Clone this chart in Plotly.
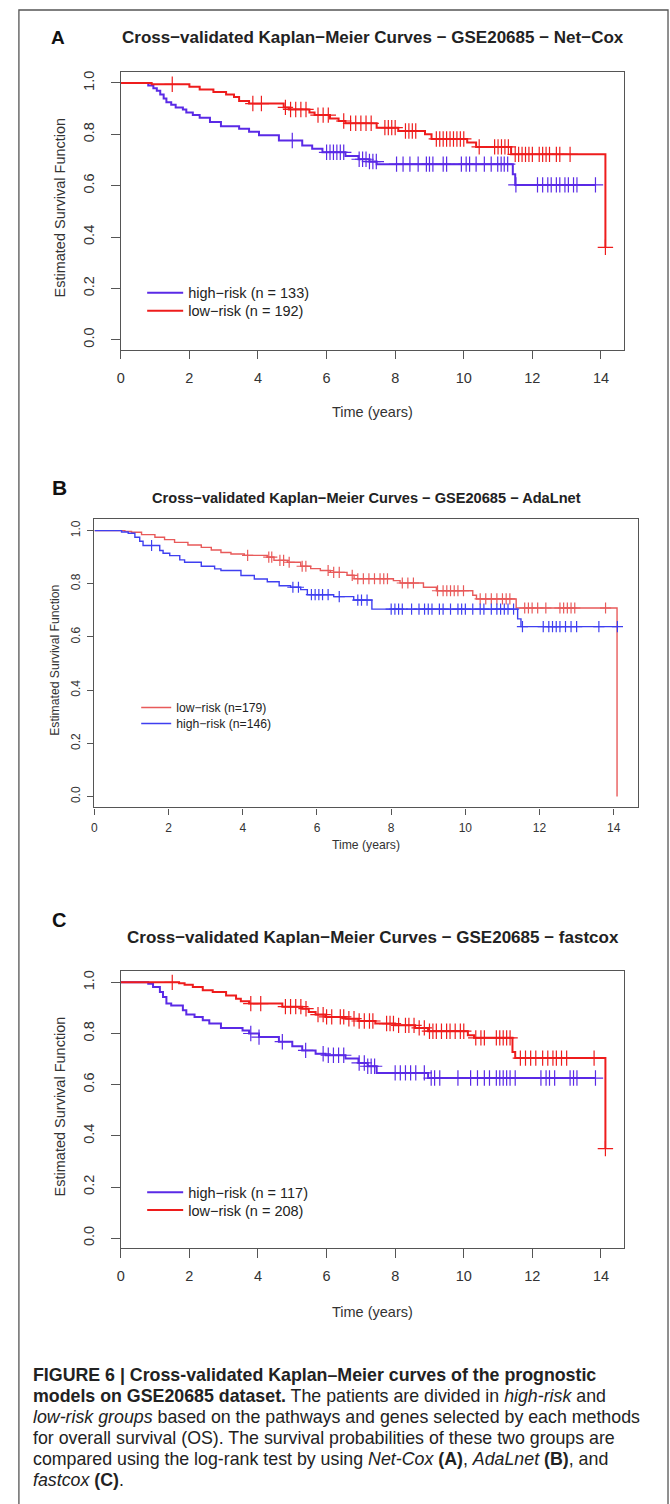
import plotly.graph_objects as go

W, H = 670, 1504

# ---------------- data ----------------
# Panel A: Net-Cox
A_low_t = [0.9, 2.0, 2.3, 2.7, 3.07, 3.3, 3.45, 3.74, 4.75, 4.9, 5.5, 5.65, 6.1, 6.35, 6.55, 7.46, 8.09, 8.87, 9.06, 10.1, 10.36, 11.38, 14.13]
A_low_s = [0.995, 0.985, 0.975, 0.965, 0.955, 0.945, 0.93, 0.92, 0.905, 0.897, 0.885, 0.875, 0.862, 0.852, 0.843, 0.826, 0.813, 0.80, 0.782, 0.768, 0.751, 0.722, 0.36]
A_low_end = 14.13
A_low_cens = [1.5, 3.85, 4.1, 4.8, 4.95, 5.1, 5.25, 5.4, 5.75, 5.9, 6.05, 6.5, 6.7, 6.85, 7.0, 7.15, 7.3,
              7.7, 7.8, 7.9, 8.0, 8.3, 8.4, 8.5, 8.6, 9.2, 9.3, 9.4, 9.5, 9.6, 9.7, 9.8, 9.9, 10.0, 10.45,
              10.9, 11.0, 11.1, 11.2, 11.3, 11.5, 11.6, 11.7, 11.8, 11.9, 12.0, 12.2, 12.3, 12.4, 12.5, 12.7,
              12.8, 13.1, 14.13]
A_high_t = [0.8, 0.95, 1.05, 1.15, 1.25, 1.33, 1.47, 1.6, 1.81, 1.91, 2.1, 2.3, 2.6, 2.92, 3.45, 3.74, 4.03, 4.61, 5.29, 5.58, 5.88, 6.55, 6.93, 7.25, 7.46, 11.43, 11.5]
A_high_s = [0.99, 0.98, 0.97, 0.955, 0.94, 0.925, 0.915, 0.905, 0.897, 0.885, 0.875, 0.865, 0.848, 0.832, 0.822, 0.81, 0.796, 0.776, 0.757, 0.744, 0.73, 0.716, 0.703, 0.694, 0.684, 0.645, 0.603]
A_high_end = 13.84
A_high_cens = [5.0, 6.0, 6.1, 6.2, 6.3, 6.4, 6.5, 6.95, 7.05, 7.15, 7.25, 7.35, 7.45, 8.04, 8.23, 8.43, 8.67,
               8.91, 9.0, 9.1, 9.4, 9.5, 9.93, 10.07, 10.17, 10.36, 10.6, 10.8, 10.99, 11.09, 11.18, 11.28,
               11.52, 12.15, 12.3, 12.45, 12.55, 12.7, 12.8, 12.95, 13.05, 13.2, 13.3, 13.84]

# Panel B: AdaLnet
B_low_t = [0.82, 1.0, 1.27, 1.63, 1.89, 2.16, 2.52, 2.88, 3.15, 3.41, 3.68, 4.04, 4.66, 4.84, 5.2, 5.56, 5.83, 6.09, 6.36, 6.81, 7.0, 8.06, 8.24, 8.87, 9.22, 10.2, 10.3, 11.37, 14.09]
B_low_s = [0.997, 0.994, 0.985, 0.975, 0.966, 0.956, 0.946, 0.937, 0.927, 0.918, 0.912, 0.907, 0.9, 0.888, 0.881, 0.866, 0.857, 0.85, 0.843, 0.832, 0.819, 0.812, 0.803, 0.787, 0.774, 0.757, 0.743, 0.709, 0.0]
B_low_end = 14.09
B_low_cens = [4.13, 4.7, 4.78, 5.0, 5.1, 5.25, 5.6, 5.7, 6.3, 6.45, 6.6, 6.95, 7.1, 7.25, 7.4, 7.55, 7.7,
              7.8, 7.9, 8.3, 8.45, 8.6, 9.25, 9.4, 9.5, 9.6, 9.7, 9.8, 9.95, 10.4, 10.55, 10.7, 10.85, 11.0,
              11.1, 11.2, 11.6, 11.7, 11.8, 11.95, 12.17, 12.55, 12.65, 12.75, 12.85, 12.95, 13.78]
B_high_t = [0.73, 0.91, 1.09, 1.22, 1.31, 1.76, 1.85, 2.03, 2.3, 2.43, 2.88, 3.24, 3.41, 3.95, 4.31, 4.66, 4.98, 5.29, 5.56, 5.74, 6.45, 6.99, 7.48, 11.41, 11.5]
B_high_s = [0.995, 0.99, 0.975, 0.96, 0.944, 0.925, 0.915, 0.906, 0.89, 0.881, 0.866, 0.856, 0.85, 0.831, 0.818, 0.808, 0.793, 0.787, 0.778, 0.759, 0.752, 0.739, 0.705, 0.668, 0.639]
B_high_end = 14.1
B_high_cens = [1.54, 5.35, 5.5, 5.85, 5.95, 6.05, 6.15, 6.3, 6.6, 7.1, 7.2, 7.35, 8.0, 8.1, 8.2, 8.3, 8.55,
               8.75, 8.9, 9.0, 9.1, 9.3, 9.4, 9.6, 9.8, 9.9, 10.0, 10.2, 10.4, 10.5, 10.7, 10.85, 10.95,
               11.05, 11.15, 11.3, 11.54, 12.1, 12.25, 12.35, 12.45, 12.55, 12.7, 12.85, 13.0, 13.6, 14.1]

# Panel C: fastcox
C_low_t = [1.7, 1.86, 2.1, 2.39, 2.68, 3.07, 3.36, 3.5, 3.74, 4.71, 5.29, 5.48, 5.68, 5.97, 6.55, 6.93, 7.42, 8.0, 8.58, 8.96, 10.12, 10.3, 11.42, 11.5, 14.13]
C_low_s = [0.996, 0.991, 0.982, 0.969, 0.962, 0.949, 0.936, 0.926, 0.917, 0.905, 0.897, 0.884, 0.874, 0.865, 0.858, 0.849, 0.839, 0.832, 0.822, 0.809, 0.793, 0.783, 0.728, 0.704, 0.35]
C_low_end = 14.13
C_low_cens = [1.5, 3.79, 4.08, 4.8, 4.95, 5.1, 5.25, 5.4, 5.75, 5.9, 6.0, 6.15, 6.4, 6.5, 6.65, 6.8, 6.95,
              7.1, 7.25, 7.35, 7.75, 7.85, 7.95, 8.1, 8.3, 8.4, 8.55, 8.7, 8.85, 9.0, 9.1, 9.2, 9.35, 9.5,
              9.6, 9.75, 9.9, 10.0, 10.35, 10.5, 10.6, 10.95, 11.05, 11.15, 11.25, 11.35, 11.65, 11.8,
              11.95, 12.1, 12.3, 12.45, 12.6, 12.7, 12.85, 13.0, 13.8, 14.13]
C_high_t = [0.8, 0.94, 1.14, 1.23, 1.33, 1.47, 1.81, 1.91, 2.15, 2.39, 2.58, 2.92, 3.55, 3.74, 4.03, 4.61, 5.0, 5.29, 5.68, 5.97, 6.55, 6.93, 7.2, 7.46, 8.96]
C_high_s = [0.995, 0.982, 0.962, 0.943, 0.917, 0.91, 0.891, 0.874, 0.865, 0.852, 0.839, 0.822, 0.812, 0.8, 0.786, 0.768, 0.75, 0.734, 0.721, 0.715, 0.702, 0.685, 0.672, 0.646, 0.626]
C_high_end = 13.84
C_high_cens = [3.79, 4.03, 4.71, 5.39, 5.9, 6.05, 6.2, 6.35, 6.5, 6.95, 7.1, 7.2, 7.3, 7.4, 8.0, 8.15, 8.3,
               8.45, 8.6, 8.85, 9.05, 9.15, 9.3, 9.83, 10.2, 10.4, 10.6, 10.75, 10.95, 11.05, 11.15, 11.25,
               11.35, 11.5, 12.25, 12.4, 12.5, 12.65, 13.1, 13.2, 13.3, 13.84]

x_ticks = [0, 2, 4, 6, 8, 10, 12, 14]
y_ticks = [0.0, 0.2, 0.4, 0.6, 0.8, 1.0]

titles = ["Cross\u2212validated Kaplan\u2212Meier Curves \u2212 GSE20685 \u2212 Net\u2212Cox",
          "Cross\u2212validated Kaplan\u2212Meier Curves \u2212 GSE20685 \u2212 AdaLnet",
          "Cross\u2212validated Kaplan\u2212Meier Curves \u2212 GSE20685 \u2212 fastcox"]
panel_letters = ["A", "B", "C"]
legend_A = ["high\u2212risk (n = 133)", "low\u2212risk (n = 192)"]
legend_B = ["low\u2212risk (n=179)", "high\u2212risk (n=146)"]
legend_C = ["high\u2212risk (n = 117)", "low\u2212risk (n = 208)"]

caption_lines = [
    "<b>FIGURE 6 | Cross-validated Kaplan\u2013Meier curves of the prognostic</b>",
    "<b>models on GSE20685 dataset.</b> The patients are divided in <i>high-risk</i> and",
    "<i>low-risk groups</i> based on the pathways and genes selected by each methods",
    "for overall survival (OS). The survival probabilities of these two groups are",
    "compared using the log-rank test by using <i>Net-Cox</i> <b>(A)</b>, <i>AdaLnet</i> <b>(B)</b>, and",
    "<i>fastcox</i> <b>(C)</b>.",
]

# ---------------- helpers ----------------
def fx(p):
    return p / W

def fy(p):
    return 1 - p / H

def surv_at(times, surv, t):
    s = 1.0
    for ti, si in zip(times, surv):
        if ti <= t + 1e-9:
            s = si
    return s

FONT = "Liberation Sans, Arial, Helvetica, sans-serif"

fig = go.Figure()

panels = [
    dict(ax="", box=(117.5, 624, 71, 349), xr=(0, 14.68), yr=(-0.039, 1.043),
         red="#ee1c1c", blue="#5a2ae6", lw=2.0, msize=11, tfs=14.5, afs=14.5, titfs=17, letfs=19,
         title_y=37, letter_x=54, letter_y=37, ylab_x=56, xlab_y=411, ticklen=8.5,
         leg_x=139, leg_y=[292, 310], legfs=14.5, legiw=36, xstand=6, ystand=11,
         series=[(legend_A[0], A_high_t, A_high_s, A_high_end, A_high_cens, "blue"),
                 (legend_A[1], A_low_t, A_low_s, A_low_end, A_low_cens, "red")]),
    dict(ax="2", box=(91, 638, 518, 807), xr=(0, 14.66), yr=(-0.041, 1.045),
         red="#e85a5a", blue="#3f3ff0", lw=1.4, msize=8, tfs=12, afs=12.2, titfs=14.6, letfs=21,
         title_y=497, letter_x=56, letter_y=487, ylab_x=51, xlab_y=845, ticklen=6,
         leg_x=133, leg_y=[707, 723], legfs=12.2, legiw=30, xstand=3, ystand=3,
         series=[(legend_B[0], B_low_t, B_low_s, B_low_end, B_low_cens, "red"),
                 (legend_B[1], B_high_t, B_high_s, B_high_end, B_high_cens, "blue")]),
    dict(ax="3", box=(117.5, 624, 971, 1248), xr=(0, 14.68), yr=(-0.039, 1.043),
         red="#ee1c1c", blue="#5a2ae6", lw=2.0, msize=11, tfs=14.5, afs=14.5, titfs=17, letfs=20,
         title_y=937, letter_x=55, letter_y=920, ylab_x=56, xlab_y=1312, ticklen=8.5,
         leg_x=139, leg_y=[1192, 1210], legfs=14.5, legiw=36, xstand=6, ystand=11,
         series=[(legend_C[0], C_high_t, C_high_s, C_high_end, C_high_cens, "blue"),
                 (legend_C[1], C_low_t, C_low_s, C_low_end, C_low_cens, "red")]),
]

annotations = []
layout_axes = {}
legends = {}
leg_counter = 0

for i, p in enumerate(panels):
    xa = "x" + p["ax"]
    ya = "y" + p["ax"]
    for k, (name, ts, ss, end, cens, col) in enumerate(p["series"]):
        leg_counter += 1
        leg_name = "legend" if leg_counter == 1 else "legend%d" % leg_counter
        color = p[col]
        xs = [0.0] + list(ts)
        ys = [1.0] + list(ss)
        if end > ts[-1]:
            xs.append(end)
            ys.append(ss[-1])
        fig.add_trace(go.Scatter(x=xs, y=ys, mode="lines", line=dict(color=color, width=p["lw"], shape="hv"),
                                 name=name, xaxis=xa, yaxis=ya, legend=leg_name, showlegend=True,
                                 hoverinfo="skip"))
        cy = [surv_at(ts, ss, t) for t in cens]
        fig.add_trace(go.Scatter(x=cens, y=cy, mode="markers",
                                 marker=dict(symbol="cross-thin", size=p["msize"], color=color,
                                             line=dict(color=color, width=1.2)),
                                 xaxis=xa, yaxis=ya, showlegend=False, hoverinfo="skip"))
        legends[leg_name] = dict(x=fx(p["leg_x"]), y=fy(p["leg_y"][k]), xanchor="left", yanchor="middle",
                                 bgcolor="rgba(0,0,0,0)", borderwidth=0, itemwidth=p["legiw"],
                                 font=dict(family=FONT, size=p["legfs"], color="#222222"))

    x0, x1, y0, y1 = p["box"]
    axis_common = dict(showline=True, mirror=True, linecolor="#555555", linewidth=1.2, ticks="outside",
                       ticklen=p["ticklen"], tickwidth=1.1, tickcolor="#555555", showgrid=False, zeroline=False,
                       tickfont=dict(family=FONT, size=p["tfs"], color="#333333"))
    layout_axes["xaxis" + p["ax"]] = dict(domain=[fx(x0), fx(x1)], range=list(p["xr"]), anchor=ya,
                                         tickmode="array", tickvals=x_ticks,
                                         ticklabelstandoff=p["xstand"], **axis_common)
    layout_axes["yaxis" + p["ax"]] = dict(domain=[fy(y1), fy(y0)], range=list(p["yr"]), anchor=xa,
                                         tickmode="array", tickvals=y_ticks,
                                         ticktext=["%.1f" % v for v in y_ticks], tickangle=-90,
                                         ticklabelstandoff=p["ystand"], **axis_common)
    cx = (x0 + x1) / 2
    annotations.append(dict(text="<b>" + titles[i] + "</b>", x=fx(cx), y=fy(p["title_y"]), xref="paper",
                            yref="paper", showarrow=False, xanchor="center", yanchor="middle",
                            font=dict(family=FONT, size=p["titfs"], color="#222222")))
    annotations.append(dict(text="<b>" + panel_letters[i] + "</b>", x=fx(p["letter_x"]), y=fy(p["letter_y"]),
                            xref="paper", yref="paper", showarrow=False, xanchor="center", yanchor="middle",
                            font=dict(family=FONT, size=p["letfs"], color="#111111")))
    annotations.append(dict(text="Estimated Survival Function", x=fx(p["ylab_x"]), y=fy((y0 + y1) / 2 - 3),
                            xref="paper", yref="paper", showarrow=False, textangle=-90, xanchor="center",
                            yanchor="middle", font=dict(family=FONT, size=p["afs"], color="#333333")))
    annotations.append(dict(text="Time (years)", x=fx(cx), y=fy(p["xlab_y"]), xref="paper", yref="paper",
                            showarrow=False, xanchor="center", yanchor="middle",
                            font=dict(family=FONT, size=p["afs"], color="#333333")))

cap_y = [1375, 1396, 1417, 1438, 1459, 1480]
for txt, yy in zip(caption_lines, cap_y):
    annotations.append(dict(text=txt, x=fx(27), y=fy(yy), xref="paper", yref="paper", showarrow=False,
                            xanchor="left", yanchor="middle",
                            font=dict(family=FONT, size=17.8, color="#222222")))

fig.update_layout(
    width=W, height=H, margin=dict(l=0, r=0, t=0, b=0),
    paper_bgcolor="white", plot_bgcolor="white",
    annotations=annotations,
    shapes=[dict(type="rect", xref="paper", yref="paper", x0=fx(15), x1=fx(668), y0=-0.01, y1=fy(9),
                 line=dict(color="#555555", width=1.3))],
    **layout_axes, **legends,
)

fig.write_html("out.html", config={"displayModeBar": False},
               post_script="document.body.style.margin='0';document.body.style.overflow='hidden';")
